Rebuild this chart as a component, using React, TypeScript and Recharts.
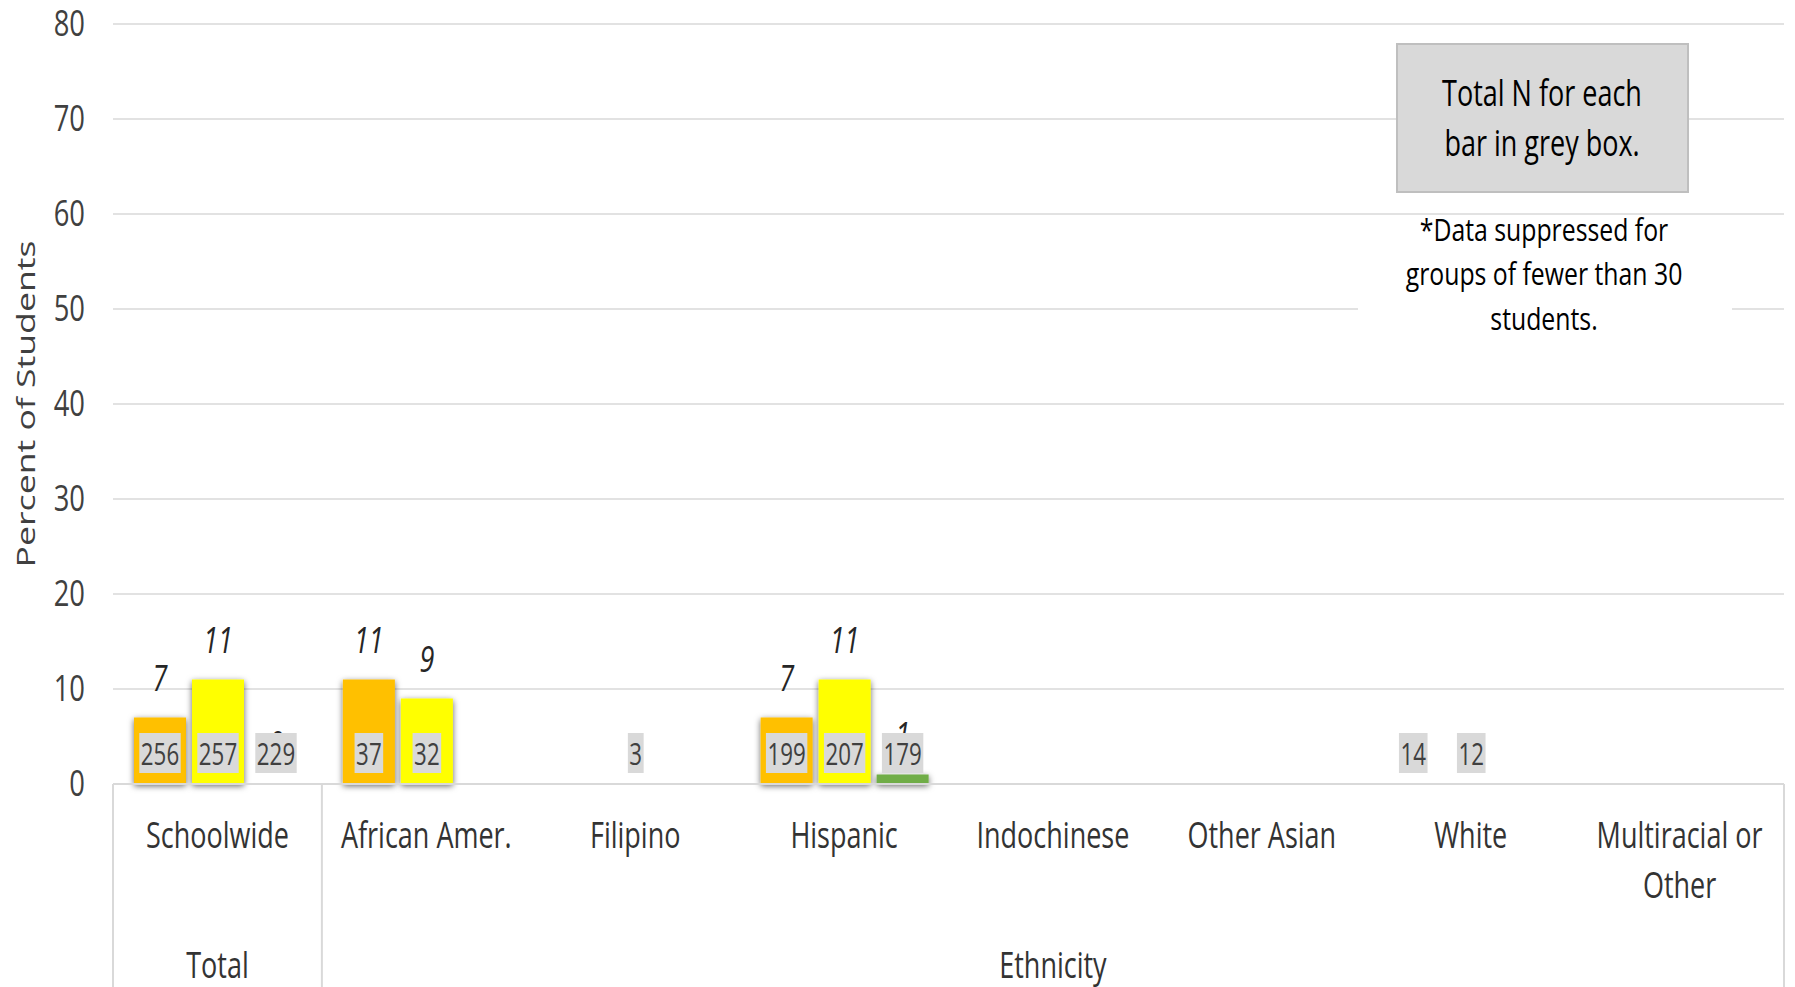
import React from 'react';
import { BarChart, Bar, XAxis, YAxis, CartesianGrid, LabelList } from 'recharts';

// ---------- data ----------
const categories = ['Schoolwide', 'African Amer.', 'Filipino', 'Hispanic', 'Indochinese', 'Other Asian', 'White', 'Multiracial or Other'];
const categoryLines = [['Schoolwide'], ['African Amer.'], ['Filipino'], ['Hispanic'], ['Indochinese'], ['Other Asian'], ['White'], ['Multiracial or', 'Other']];
const groupLabels = [
  { label: 'Total', start: 0, end: 0 },
  { label: 'Ethnicity', start: 1, end: 7 },
];
const seriesNames = ['Year 1', 'Year 2', 'Year 3'];
const seriesColors = ['#FFC000', '#FFFF00', '#70AD47'];
// percent values (null = suppressed / no data)
const orangeValues = [7, 11, null, 7, null, null, null, null];
const yellowValues = [11, 9, null, 11, null, null, null, null];
const greenValues = [0, null, null, 1, null, null, null, null];
// total N shown in grey boxes
const orangeN = [256, 37, null, 199, null, null, 14, null];
const yellowN = [257, 32, 3, 207, null, null, 12, null];
const greenN = [229, null, null, 179, null, null, null, null];
const yTicks = [0, 10, 20, 30, 40, 50, 60, 70, 80];

const valueSets = [orangeValues, yellowValues, greenValues];
const nSets = [orangeN, yellowN, greenN];

const data = categories.map((c, i) => {
  const row: any = { category: c };
  valueSets.forEach((vals, s) => {
    row['v' + s] = vals[i] ?? 0;
    row['l' + s] = vals[i];
    row['n' + s] = nSets[s][i];
  });
  return row;
});

// ---------- text helpers ----------
const FONT = '"Open Sans", sans-serif';
const SX = 0.75;

function SqText({ x, y, children, size = 36, anchor = 'middle', italic = false, fill = '#404040', sx = SX }: any) {
  return (
    <text
      transform={`translate(${x},${y}) scale(${sx},1)`}
      x={0}
      y={0}
      textAnchor={anchor}
      fontFamily={FONT}
      fontSize={size}
      fontStyle={italic ? 'italic' : 'normal'}
      fill={fill}
    >
      {children}
    </text>
  );
}

const BarShape = (p: any) => {
  if (!p || !(p.height > 0)) return <g />;
  return <rect x={p.x} y={p.y} width={p.width} height={p.height} fill={p.fill} filter="url(#barShadow)" />;
};

const ValueLabel = (p: any) => {
  const v = p.value;
  if (v === null || v === undefined) return null;
  const vb = p.viewBox || {};
  const x = (p.x ?? vb.x) + (p.width ?? vb.width) / 2;
  const y = p.y ?? vb.y;
  return (
    <SqText x={x} y={y - 27} italic fill="#262626" size={36}>
      {String(v)}
    </SqText>
  );
};

const NLabel = (p: any) => {
  const v = p.value;
  if (v === null || v === undefined) return null;
  const vb = p.viewBox || {};
  const bx = p.x ?? vb.x;
  const bw = p.width ?? vb.width;
  const by = p.y ?? vb.y;
  const bh = p.height ?? vb.height ?? 0;
  const base = by + bh;
  const cx = bx + bw / 2;
  const digits = String(v).length;
  const w = digits * 12.8 + 3;
  return (
    <g>
      <rect x={cx - w / 2} y={base - 51} width={w} height={40} fill="#D9D9D9" />
      <SqText x={cx} y={base - 19} size={31} sx={0.72} fill="#404040">
        {String(v)}
      </SqText>
    </g>
  );
};

const CategoryTick = (p: any) => {
  const { x, y, payload } = p;
  const idx = payload.index ?? categories.indexOf(payload.value);
  const half = payload.offset ?? 104.4;
  const lines = categoryLines[idx] || [String(payload.value)];
  const els: any[] = [];
  lines.forEach((ln, k) => {
    els.push(
      <SqText key={'l' + k} x={x} y={y + 64 + k * 50} size={36} fill="#333333">
        {ln}
      </SqText>
    );
  });
  groupLabels.forEach((g, gi) => {
    if ((g.start + g.end) / 2 === idx) {
      els.push(
        <SqText key={'g' + gi} x={x} y={y + 194} size={36} fill="#333333">
          {g.label}
        </SqText>
      );
    }
    if (g.start === idx) {
      els.push(<line key={'s' + gi} x1={x - half} x2={x - half} y1={y} y2={y + 210} stroke="#D9D9D9" strokeWidth={2} />);
    }
    if (g.end === idx && gi === groupLabels.length - 1) {
      els.push(<line key={'e' + gi} x1={x + half} x2={x + half} y1={y} y2={y + 210} stroke="#D9D9D9" strokeWidth={2} />);
    }
  });
  return <g>{els}</g>;
};

const YTick = (p: any) => {
  const { x, y, payload } = p;
  return (
    <SqText x={x - 28} y={y + 12} anchor="end" size={37} sx={0.74} fill="#404040">
      {String(payload.value)}
    </SqText>
  );
};

const YLabel = (p: any) => {
  const vb = p.viewBox || { x: 0, y: 24, width: 113, height: 760 };
  const cy = vb.y + vb.height / 2;
  const bx = vb.x + 35;
  return (
    <text
      transform={`translate(${bx},${cy}) rotate(-90) scale(1.37,1)`}
      x={0}
      y={0}
      textAnchor="middle"
      fontFamily={FONT}
      fontSize={26}
      fill="#404040"
    >
      Percent of Students
    </text>
  );
};

export default function App() {
  return (
    <div style={{ position: 'absolute', left: 0, top: 0, width: 1795, height: 987, background: '#fff', overflow: 'hidden' }}>
      <svg width={0} height={0} style={{ position: 'absolute' }}>
        <defs>
          <filter id="barShadow" filterUnits="userSpaceOnUse" x={0} y={0} width={1795} height={987}>
            <feDropShadow dx={0} dy={2} stdDeviation={3} floodColor="#000" floodOpacity={0.6} />
          </filter>
        </defs>
      </svg>
      <BarChart
        width={1795}
        height={987}
        data={data}
        margin={{ top: 24, right: 11, left: 0, bottom: 0 }}
        barCategoryGap={21}
        barGap={6}
      >
        <CartesianGrid vertical={false} stroke="#D9D9D9" strokeWidth={1.5} />
        <XAxis
          dataKey="category"
          interval={0}
          height={203}
          tickLine={false}
          tickSize={0}
          tickMargin={0}
          axisLine={{ stroke: '#D9D9D9', strokeWidth: 2 }}
          tick={<CategoryTick />}
        />
        <YAxis
          domain={[0, 80]}
          ticks={yTicks}
          width={113}
          axisLine={false}
          tickLine={false}
          tickSize={0}
          tickMargin={0}
          tick={<YTick />}
          label={{ content: YLabel }}
        />
        {seriesNames.map((name, s) => (
          <Bar
            key={name}
            name={name}
            dataKey={'v' + s}
            fill={seriesColors[s]}
            isAnimationActive={false}
            shape={BarShape}
          >
            <LabelList dataKey={'l' + s} content={ValueLabel} />
            <LabelList dataKey={'n' + s} content={NLabel} />
          </Bar>
        ))}
      </BarChart>
      <svg width={1795} height={987} style={{ position: 'absolute', left: 0, top: 0, pointerEvents: 'none' }}>
        <rect x={1397} y={44} width={291} height={148} fill="#D9D9D9" stroke="#BFBFBF" strokeWidth={2} />
        <SqText x={1542} y={106} size={36} fill="#000">Total N for each</SqText>
        <SqText x={1542} y={156} size={36} fill="#000">bar in grey box.</SqText>
        <rect x={1358} y={217} width={374} height={128} fill="#fff" />
        <SqText x={1544} y={241} size={31} sx={0.8} fill="#000">*Data suppressed for</SqText>
        <SqText x={1544} y={285} size={31} sx={0.8} fill="#000">groups of fewer than 30</SqText>
        <SqText x={1544} y={330} size={31} sx={0.8} fill="#000">students.</SqText>
      </svg>
    </div>
  );
}
